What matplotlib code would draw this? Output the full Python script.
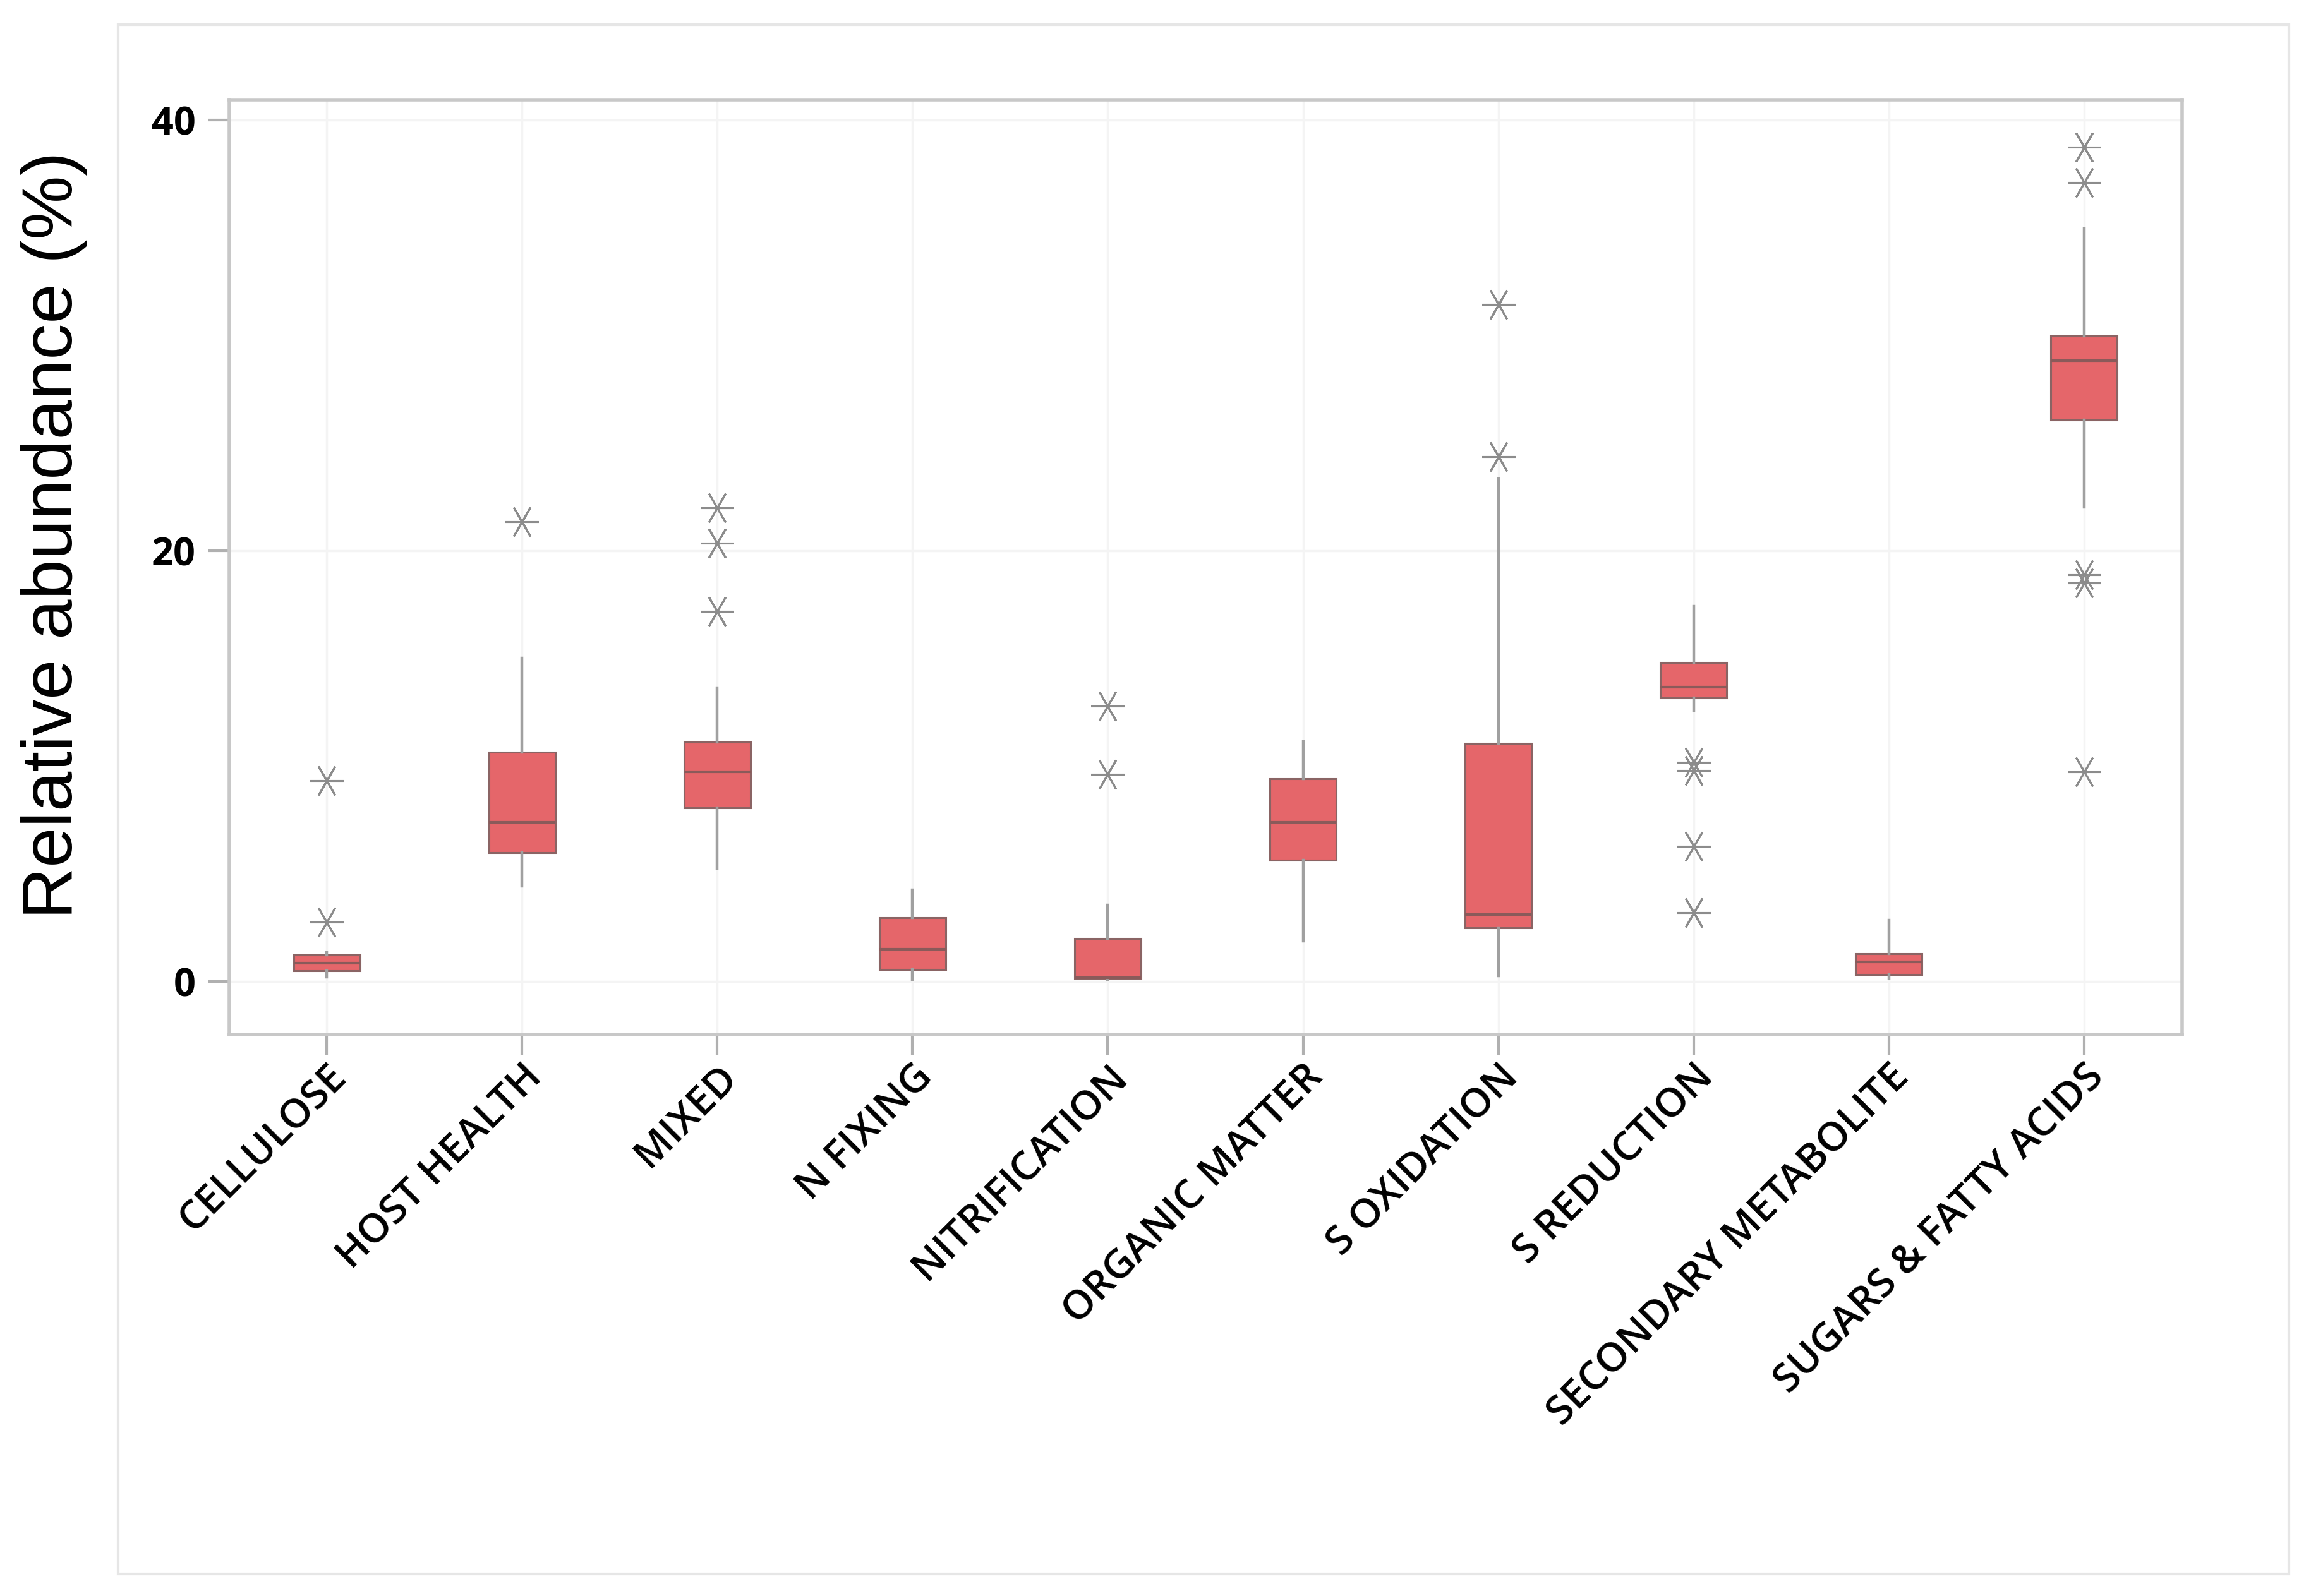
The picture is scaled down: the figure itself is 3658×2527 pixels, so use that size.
import matplotlib
matplotlib.use("Agg")
import matplotlib.pyplot as plt
from matplotlib.patches import Rectangle

categories = ["CELLULOSE", "HOST HEALTH", "MIXED", "N FIXING", "NITRIFICATION",
              "ORGANIC MATTER", "S OXIDATION", "S REDUCTION",
              "SECONDARY METABOLITE", "SUGARS & FATTY ACIDS"]
q1 =      [0.51, 5.99, 8.08, 0.57, 0.15, 5.63, 2.49, 13.17, 0.33, 26.08]
median =  [0.84, 7.40, 9.73, 1.50, 0.18, 7.40, 3.11, 13.68, 0.90, 28.83]
q3 =      [1.23, 10.66, 11.11, 2.96, 2.00, 9.43, 11.05, 14.82, 1.29, 29.97]
whislo =  [0.20, 4.43, 5.24, 0.09, 0.10, 1.89, 0.27, 12.57, 0.15, 22.04]
whishi =  [1.35, 15.03, 13.65, 4.25, 3.56, 11.14, 23.35, 17.43, 2.84, 34.97]
outliers = [
    [9.34, 2.75],
    [21.35],
    [22.0, 20.36, 17.2],
    [],
    [12.78, 9.61],
    [],
    [31.44, 24.37],
    [10.18, 9.79, 6.29, 3.2],
    [],
    [38.74, 37.10, 18.9, 18.5, 9.73],
]
yticks = [0, 20, 40]

fig = plt.figure(figsize=(36.58, 25.27), dpi=100)
fig.patches.append(Rectangle((187/3658, 1-2492/2527), (3623-187)/3658, (2492-39)/2527,
                             transform=fig.transFigure, fill=False,
                             edgecolor="#e6e6e6", linewidth=3))
ax = fig.add_axes([362.5/3658, 1-1638/2527, (3453.5-362.5)/3658, (1638-158)/2527])

stats = []
for i, c in enumerate(categories):
    stats.append(dict(label=c, q1=q1[i], med=median[i], q3=q3[i],
                      whislo=whislo[i], whishi=whishi[i], fliers=outliers[i]))

ax.bxp(stats, positions=range(len(categories)), widths=0.34, patch_artist=True,
       showcaps=False,
       boxprops=dict(facecolor="#e5666a", edgecolor="#8a6464", linewidth=2.2),
       medianprops=dict(color="#8a5a5a", linewidth=3),
       whiskerprops=dict(color="#a0a0a0", linewidth=3.2),
       flierprops=dict(marker=(6, 2, 90), markersize=38, markeredgecolor="#8c8c8c",
                       markerfacecolor="none", markeredgewidth=2.2, linestyle="none"),
       zorder=3)

ax.set_xlim(-0.5, 9.5)
ax.set_ylim(-2.46, 40.94)
ax.set_yticks(yticks)
ax.set_yticklabels([str(v) for v in yticks], fontfamily="Open Sans",
                   fontweight="bold", fontsize=44)
ax.set_xticks(range(len(categories)))
ax.set_xticklabels(categories, rotation=45, ha="right", va="top",
                   rotation_mode="anchor", fontfamily="Open Sans", fontsize=46,
                   fontweight="semibold")

ax.tick_params(axis="both", direction="out", length=24, width=3, color="#b0b0b0")
ax.tick_params(axis="x", pad=2)
ax.tick_params(axis="y", pad=14)
ax.grid(True, color="#f4f4f4", linewidth=2.5, zorder=0)
ax.set_axisbelow(True)
for s in ax.spines.values():
    s.set_color("#c8c8c8")
    s.set_linewidth(4)

fig.text(85/3658, 1-847/2527, "Relative abundance (%)", rotation=90,
         ha="center", va="center", fontfamily="Liberation Sans", fontsize=82)

fig.savefig("out.png", dpi=100, facecolor="white")
